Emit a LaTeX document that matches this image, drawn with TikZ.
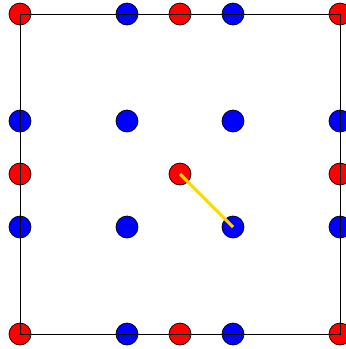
\documentclass[tikz,border=0pt]{standalone}
\begin{document}
\begin{tikzpicture}[x=1pt,y=-1pt,
  dot/.style={circle,draw=black,line width=0.7pt,minimum size=22pt,inner sep=0pt},
  rdot/.style={dot,fill=red},
  bdot/.style={dot,fill=blue},
  edge/.style={black,line width=1pt},
  link/.style={color={rgb,255:red,255;green,215;blue,0},line width=3pt}]
\useasboundingbox (0,0) rectangle (346,349);
% red points
\node[rdot] (c1) at (20,14) {};
\node[rdot] (c2) at (340,14) {};
\node[rdot] (c3) at (340,334) {};
\node[rdot] (c4) at (20,334) {};
\node[rdot] (mt) at (180,14) {};
\node[rdot] (mb) at (180,334) {};
\node[rdot] (ml) at (20,174) {};
\node[rdot] (mr) at (340,174) {};
\node[rdot] (cc) at (180,174) {};
% blue points
\node[bdot] (t1) at (127,14) {};
\node[bdot] (t2) at (233,14) {};
\node[bdot] (b1) at (127,334) {};
\node[bdot] (b2) at (233,334) {};
\node[bdot] (l1) at (20,121) {};
\node[bdot] (l2) at (20,227) {};
\node[bdot] (r1) at (340,121) {};
\node[bdot] (r2) at (340,227) {};
\node[bdot] (i1) at (127,121) {};
\node[bdot] (i2) at (233,121) {};
\node[bdot] (i3) at (127,227) {};
\node[bdot] (i4) at (233,227) {};
% square
\draw[edge] (c1.center) -- (c2.center) -- (c3.center) -- (c4.center) -- cycle;
% link
\draw[link] (cc.center) -- (i4.center);
\end{tikzpicture}
\end{document}
